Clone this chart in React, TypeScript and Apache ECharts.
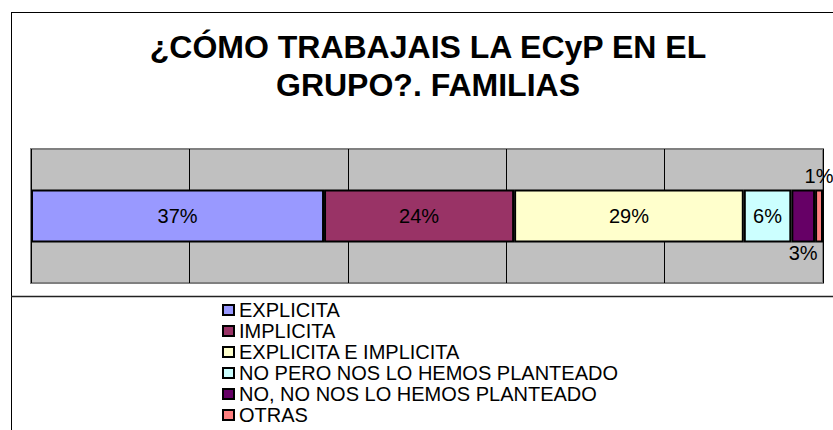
import React, { useEffect, useRef } from "react";
import * as echarts from "echarts";

const titleLines = ["¿CÓMO TRABAJAIS LA ECyP EN EL", "GRUPO?. FAMILIAS"];
const categories = ["FAMILIAS"];
const seriesNames = [
  "EXPLICITA",
  "IMPLICITA",
  "EXPLICITA E IMPLICITA",
  "NO PERO NOS LO HEMOS PLANTEADO",
  "NO, NO NOS LO HEMOS PLANTEADO",
  "OTRAS",
];
const seriesValues = [37, 24, 29, 6, 3, 1];
const seriesColors = ["#9999FF", "#993366", "#FFFFCC", "#CCFFFF", "#660066", "#FF8080"];
const axisMin = 0;
const axisMax = 100;
const axisStep = 20;

const FONT = "'Liberation Sans', Arial, Helvetica, sans-serif";

export default function App() {
  const ref = useRef<HTMLDivElement>(null);

  useEffect(() => {
    if (!ref.current) return;
    const chart = echarts.init(ref.current, undefined, { renderer: "svg" });

    const series = seriesNames.map((name, i) => {
      let position: any = "inside";
      let distance = 5;
      if (i === seriesNames.length - 1) {
        position = "top";
        distance = 4;
      } else if (i === seriesNames.length - 2) {
        position = "bottom";
        distance = 0;
      }
      return {
        name,
        type: "bar",
        stack: "total",
        barWidth: 53,
        data: [seriesValues[i]],
        itemStyle: { color: seriesColors[i], borderColor: "#000", borderWidth: 2 },
        label: {
          show: true,
          position,
          distance,
          formatter: "{c}%",
          fontSize: 20,
          fontFamily: FONT,
          color: "#000",
        },
        emphasis: { disabled: true },
      };
    });

    chart.setOption({
      animation: false,
      backgroundColor: "#fff",
      graphic: [
        {
          type: "line",
          shape: { x1: 11.5, y1: 12, x2: 11.5, y2: 430 },
          style: { stroke: "#000", lineWidth: 1 },
          silent: true,
        },
        {
          type: "line",
          shape: { x1: 11, y1: 12.5, x2: 833, y2: 12.5 },
          style: { stroke: "#000", lineWidth: 1 },
          silent: true,
        },
        {
          type: "line",
          shape: { x1: 11, y1: 296.5, x2: 833, y2: 296.5 },
          style: { stroke: "#222", lineWidth: 1.5 },
          silent: true,
        },
        {
          type: "text",
          x: 428,
          y: 47,
          style: {
            text: titleLines[0],
            font: `bold 32px ${FONT}`,
            fill: "#000",
            textAlign: "center",
            textVerticalAlign: "middle",
          },
          silent: true,
        },
        {
          type: "text",
          x: 428,
          y: 85,
          style: {
            text: titleLines[1],
            font: `bold 32px ${FONT}`,
            fill: "#000",
            textAlign: "center",
            textVerticalAlign: "middle",
          },
          silent: true,
        },
      ],
      grid: {
        left: 31,
        right: 10,
        top: 149,
        height: 134,
        show: true,
        backgroundColor: "#C0C0C0",
        borderColor: "#808080",
        borderWidth: 2,
      },
      xAxis: {
        type: "value",
        min: axisMin,
        max: axisMax,
        interval: axisStep,
        axisLabel: { show: false },
        axisLine: { show: false },
        axisTick: { show: false },
        splitLine: { show: true, lineStyle: { color: "#000", width: 1 } },
      },
      yAxis: {
        type: "category",
        data: categories,
        show: false,
      },
      legend: {
        orient: "vertical",
        left: 222,
        top: 300,
        height: 130,
        padding: 0,
        itemWidth: 11,
        itemHeight: 10,
        itemGap: 1,
        icon: "rect",
        selectedMode: false,
        data: seriesNames,
        itemStyle: { borderColor: "#000", borderWidth: 2 },
        textStyle: { fontSize: 20, fontFamily: FONT, color: "#000", lineHeight: 20 },
      },
      series,
    });

    return () => chart.dispose();
  }, []);

  return (
    <div
      ref={ref}
      style={{ position: "absolute", left: 0, top: 0, width: 833, height: 430 }}
    />
  );
}
